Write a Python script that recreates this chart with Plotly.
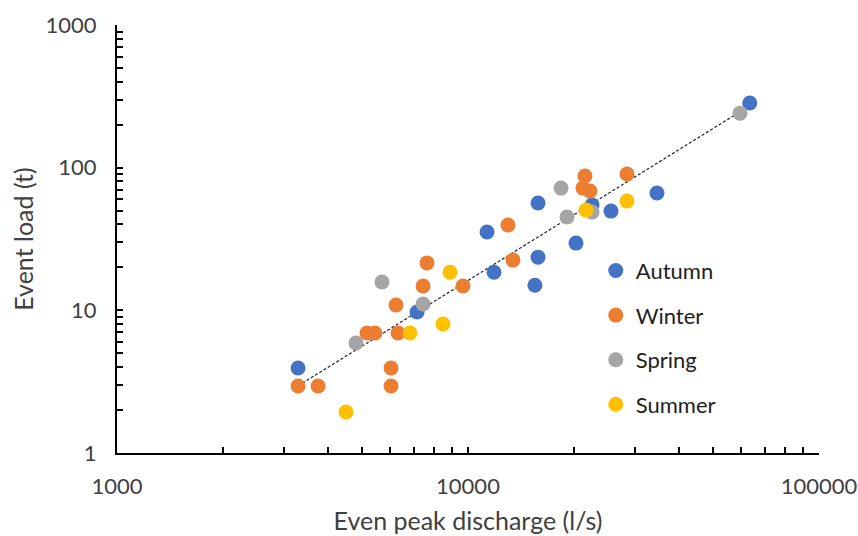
import numpy as np
import plotly.graph_objects as go

# Event peak discharge (l/s) and event load (t) per season
autumn_q = [3280, 7160, 11330, 11860, 15830, 15830, 15510, 20310, 22560, 25550, 34550, 63500]
autumn_load = [3.94, 9.73, 35.4, 18.5, 56.5, 23.6, 15.0, 29.6, 54.7, 49.6, 66.4, 284]

winter_q = [3280, 3740, 5155, 5433, 6035, 6035, 6236, 6318, 7446, 7642, 9678, 13000, 13430,
            21540, 21260, 22260, 28380]
winter_load = [2.95, 2.95, 6.93, 6.93, 3.94, 2.95, 10.9, 6.93, 14.8, 21.5, 14.8, 39.6, 22.5,
               87.4, 71.9, 68.6, 90.2]

spring_q = [4797, 5688, 7446, 18410, 19150, 22560, 59560]
spring_load = [5.90, 15.8, 11.07, 71.9, 45.1, 48.8, 241]

summer_q = [4492, 6834, 8487, 8887, 21690, 28380]
summer_load = [1.94, 6.93, 8.02, 18.5, 50.4, 58.3]

seasons = ["Autumn", "Winter", "Spring", "Summer"]
colors = ["#4472C4", "#ED7D31", "#A5A5A5", "#FFC000"]
series = [(autumn_q, autumn_load), (winter_q, winter_load),
          (spring_q, spring_load), (summer_q, summer_load)]

font_family = "Lato, 'Open Sans', sans-serif"
text_color = "#404040"

fig = go.Figure()

# Power-law trendline fitted to all events
all_q = np.concatenate([np.array(q, float) for q, _ in series])
all_l = np.concatenate([np.array(l, float) for _, l in series])
slope, intercept = np.polyfit(np.log10(all_q), np.log10(all_l), 1)
trend_x = np.logspace(np.log10(all_q.min()), np.log10(all_q.max()), 50)
trend_y = 10 ** (intercept + slope * np.log10(trend_x))
fig.add_trace(go.Scatter(
    x=trend_x, y=trend_y, mode="lines", showlegend=False, hoverinfo="skip",
    line=dict(color="#222222", width=1.2, dash="3px,2px"),
))

for name, color, (q, load) in zip(seasons, colors, series):
    fig.add_trace(go.Scatter(
        x=q, y=load, mode="markers", name=name, legendgroup=name,
        marker=dict(size=15, color=color),
    ))

axis_common = dict(
    type="log",
    automargin=False,
    showgrid=False,
    zeroline=False,
    showline=True,
    linecolor="black",
    linewidth=2,
    ticks="inside",
    ticklen=6,
    tickwidth=2,
    tickcolor="black",
    tickfont=dict(family=font_family, size=22, color=text_color),
    minor=dict(ticks="inside", ticklen=6, tickwidth=2, tickcolor="black", dtick="D1"),
)

fig.update_xaxes(
    range=[3, 5], tickvals=[1000, 10000, 100000], ticktext=["1000", "10000", "100000"],
    ticklabelstandoff=13,
    title=dict(text="Even peak discharge (l/s)", font=dict(family=font_family, size=25, color=text_color),
               standoff=14),
    **axis_common,
)
fig.update_yaxes(
    range=[0, 3], tickvals=[1, 10, 100, 1000], ticktext=["1", "10", "100", "1000"],
    ticklabelstandoff=14,
    title=dict(text="Event load (t)", font=dict(family=font_family, size=25, color=text_color),
               standoff=5),
    **axis_common,
)

fig.update_layout(
    width=858, height=536,
    margin=dict(l=117, r=39, t=25, b=83),
    paper_bgcolor="white",
    plot_bgcolor="white",
    showlegend=True,
    legend=dict(
        x=0.682, y=0.475, xanchor="left", yanchor="top",
        font=dict(family=font_family, size=22, color="#222222"),
        traceorder="grouped", tracegroupgap=13,
        bgcolor="rgba(0,0,0,0)", itemwidth=30,
    ),
)

fig.write_html("out.html")
